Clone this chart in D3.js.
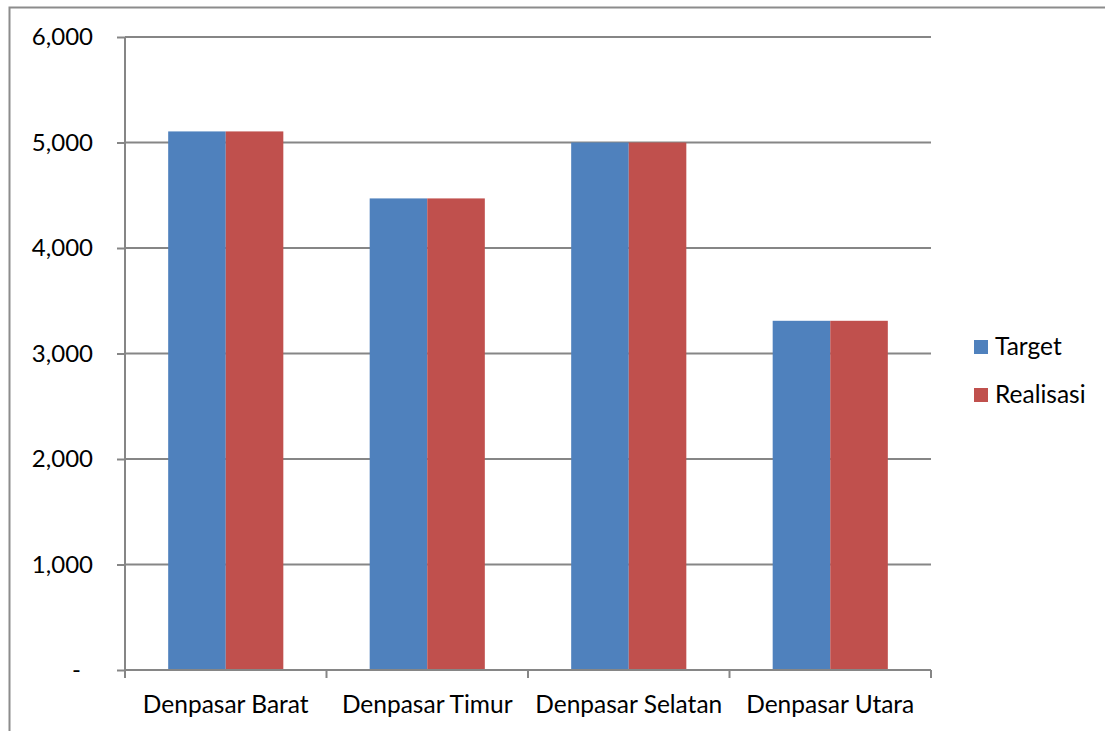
<!DOCTYPE html>
<html>
<head>
<meta charset="utf-8">
<script src="https://cdn.jsdelivr.net/npm/d3@7"></script>
<style>
  body { margin: 0; background: #fff; }
  svg text { font-family: Lato, "Open Sans", sans-serif; fill: #000; }
</style>
</head>
<body>
<svg width="1105" height="731"></svg>
<script>
const categories = ["Denpasar Barat", "Denpasar Timur", "Denpasar Selatan", "Denpasar Utara"];
const seriesNames = ["Target", "Realisasi"];
const target = [5105, 4470, 5000, 3310];
const realisasi = [5105, 4470, 5000, 3310];
const yTicks = [0, 1000, 2000, 3000, 4000, 5000, 6000];
const colors = ["#4F81BD", "#C0504D"];

const margin = {top: 37, right: 174, bottom: 61, left: 125};
const width = 1105 - margin.left - margin.right,
      height = 731 - margin.top - margin.bottom;

const svg = d3.select("svg");

// chart area border (top + left only visible)
svg.append("path")
    .attr("d", "M9.5,740 V7.5 H1110")
    .attr("fill", "none").attr("stroke", "#8c8c8c").attr("stroke-width", 2);

const g = svg.append("g").attr("transform", `translate(${margin.left}, ${margin.top})`);

const x0 = d3.scaleBand().domain(categories).range([0, width]);
// 150% gap width: bars take 2 of 3.5 units per band
const x1 = d3.scaleBand().domain(seriesNames).range([0, x0.bandwidth()]).paddingInner(0).paddingOuter(0.75);
const y = d3.scaleLinear().domain([0, 6000]).range([height, 0]);

// gridlines
g.append("g").selectAll("line")
    .data(yTicks.filter(d => d > 0))
    .enter().append("line")
    .attr("x1", 0).attr("x2", width)
    .attr("y1", d => y(d)).attr("y2", d => y(d))
    .attr("stroke", "#868686").attr("stroke-width", 2);

// bars
const rows = categories.map((c, i) => ({cat: c, values: [target[i], realisasi[i]]}));
const grp = g.selectAll(".grp").data(rows).enter().append("g")
    .attr("transform", d => `translate(${x0(d.cat)}, 0)`);
grp.selectAll("rect")
    .data(d => d.values.map((v, j) => ({name: seriesNames[j], value: v, j})))
    .enter().append("rect")
    .attr("x", d => x1(d.name))
    .attr("y", d => y(d.value))
    .attr("width", x1.bandwidth())
    .attr("height", d => height - y(d.value))
    .attr("fill", d => colors[d.j]);

// y axis
const yAxis = g.append("g")
    .call(d3.axisLeft(y).tickValues(yTicks).tickSize(8).tickPadding(24)
        .tickFormat(d => d === 0 ? "-" : d3.format(",")(d)));
yAxis.select(".domain").remove();
yAxis.selectAll(".tick line").attr("stroke", "#868686").attr("stroke-width", 2);
yAxis.selectAll(".tick text").attr("font-size", "24px")
    .attr("dx", d => d === 0 ? "-12px" : 0);
g.append("line").attr("x1", 0).attr("x2", 0).attr("y1", 0).attr("y2", height)
    .attr("stroke", "#868686").attr("stroke-width", 2);

// x axis
const xg = g.append("g").attr("transform", `translate(0, ${height})`);
xg.append("line").attr("x1", 0).attr("x2", width).attr("stroke", "#868686").attr("stroke-width", 2);
xg.selectAll(".xt").data(categories.map(c => x0(c)).concat([width]))
    .enter().append("line")
    .attr("x1", d => d).attr("x2", d => d).attr("y1", 0).attr("y2", 8)
    .attr("stroke", "#868686").attr("stroke-width", 2);
xg.selectAll(".xl").data(categories).enter().append("text")
    .attr("x", d => x0(d) + x0.bandwidth() / 2)
    .attr("y", 43)
    .attr("text-anchor", "middle")
    .attr("font-size", "24.5px")
    .text(d => d);

// legend
const legend = svg.append("g").attr("transform", "translate(974, 340)");
seriesNames.forEach((s, i) => {
    const row = legend.append("g").attr("transform", `translate(0, ${i * 48})`);
    row.append("rect").attr("width", 14).attr("height", 14).attr("fill", colors[i]);
    row.append("text").attr("x", 21).attr("y", 15).attr("font-size", "24.5px").text(s);
});
</script>
</body>
</html>
